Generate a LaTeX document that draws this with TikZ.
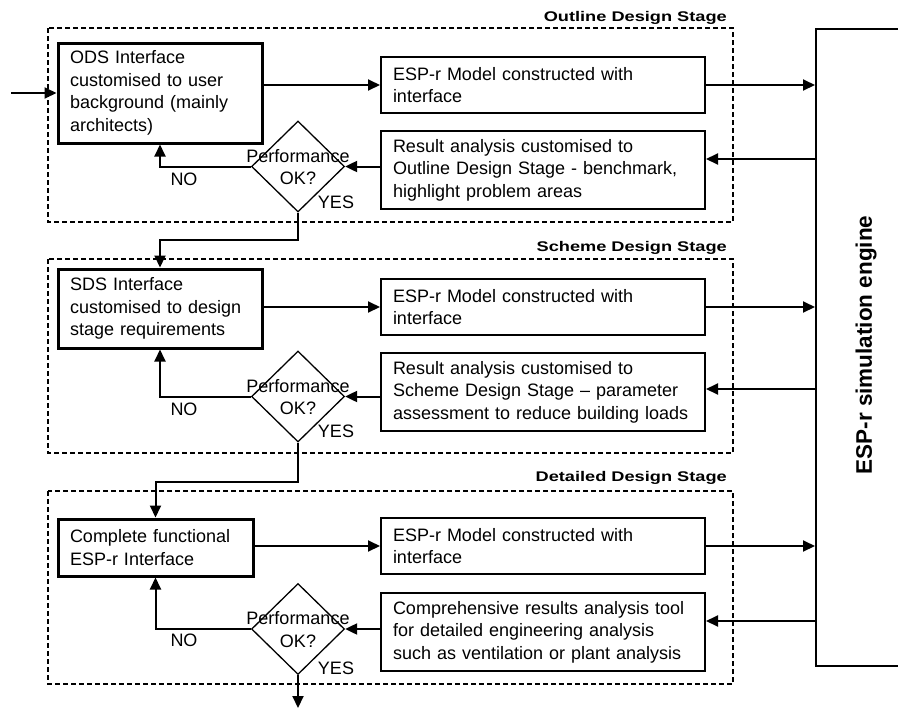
\documentclass[tikz,border=0pt]{standalone}
\usepackage{fontspec}
\setmainfont{Liberation Sans}
\newfontfamily\titlefont[FakeStretch=1.3]{Liberation Sans}
\usetikzlibrary{arrows.meta,shapes.geometric}
\tikzset{
  body/.style={font=\fontsize{18}{22.5}\selectfont},
  mainbox/.style={body,draw,line width=3pt,inner xsep=12pt,inner ysep=0pt,align=left},
  stepbox/.style={body,draw,line width=2pt,inner xsep=12pt,inner ysep=0pt,align=left,text width=300pt,minimum height=#1},
  dia/.style={draw,shape=diamond,line width=1.3pt,minimum width=93pt,minimum height=91pt,inner sep=0pt},
  stagebox/.style={draw,line width=1.4pt,dash pattern=on 5pt off 3pt},
  stagetitle/.style={font=\titlefont\bfseries\fontsize{14}{16}\selectfont,anchor=base east,inner sep=0pt},
  conn/.style={line width=2pt,-{Triangle[length=12pt,width=11pt]}},
  lbl/.style={body,inner sep=0pt}
}
\begin{document}
\begin{tikzpicture}[x=1pt,y=-1pt]
\useasboundingbox (0,0) rectangle (898,710);
% stage frames
\draw[stagebox] (48,28) rectangle (733,222);
\draw[stagebox] (48,259) rectangle (733,453);
\draw[stagebox] (48,491) rectangle (733,684);
\node[stagetitle] (t1) at (727,21) {Outline Design Stage};
\node[stagetitle] (t2) at (727,251) {Scheme Design Stage};
\node[stagetitle] (t3) at (727,481) {Detailed Design Stage};
% engine
\node[draw,line width=2pt,minimum width=164pt,minimum height=637pt,inner sep=0pt] (eng) at (898,347.5) {};
\node[rotate=90,font=\bfseries\fontsize{22.5}{26}\selectfont,inner sep=0pt] (engt) at (866,345) {ESP-r simulation engine};
% stage 1
\node[mainbox,text width=180pt,minimum height=100pt] (ods) at (160,93) {ODS Interface\\customised to user\\background (mainly\\architects)};
\node[stepbox=56pt] (esp1) at (543,85) {ESP-r Model constructed with\\interface};
\node[stepbox=78pt] (res1) at (543,170) {Result analysis customised to\\Outline Design Stage - benchmark,\\highlight problem areas};
\node[dia] (d1) at (298,166.5) {};
\node[lbl,align=center] (q1) at (298,167) {Performance\\OK?};
\node[lbl] (no1) at (184,179) {NO};
\node[lbl] (yes1) at (336,202) {YES};
% stage 2
\node[mainbox,text width=180pt,minimum height=79pt] (sds) at (160,308.5) {SDS Interface\\customised to design\\stage requirements};
\node[stepbox=56pt] (esp2) at (543,307) {ESP-r Model constructed with\\interface};
\node[stepbox=78pt] (res2) at (543,392) {Result analysis customised to\\Scheme Design Stage – parameter\\assessment to reduce building loads};
\node[dia] (d2) at (298,396.5) {};
\node[lbl,align=center] (q2) at (298,397) {Performance\\OK?};
\node[lbl] (no2) at (184,409) {NO};
\node[lbl] (yes2) at (336,431.5) {YES};
% stage 3
\node[mainbox,text width=171pt,minimum height=57pt] (cmp) at (155.5,547.5) {Complete functional\\ESP-r Interface};
\node[stepbox=56pt] (esp3) at (543,546) {ESP-r Model constructed with\\interface};
\node[stepbox=78pt] (res3) at (543,632) {Comprehensive results analysis tool\\for detailed engineering analysis\\such as ventilation or plant analysis};
\node[dia] (d3) at (298,629) {};
\node[lbl,align=center] (q3) at (298,629.5) {Performance\\OK?};
\node[lbl] (no3) at (184,640) {NO};
\node[lbl] (yes3) at (336,668) {YES};
% connectors
\coordinate (in) at (11,93);
\coordinate (out) at (298,708);
\draw[conn] (in) -- (ods.west);
\draw[conn] (ods.east |- esp1.west) -- (esp1.west);
\draw[conn] (esp1.east) -- (esp1.east -| eng.west);
\draw[conn] ([yshift=11pt]res1.east -| eng.west) -- ([yshift=11pt]res1.east);
\draw[conn] (d1.east -| res1.west) -- (d1.east);
\draw[conn] (d1.west) -| (ods.south);
\draw[conn] (d1.south) -- ++(0,27) -| (sds.north);
\draw[conn] (sds.east |- esp2.west) -- (esp2.west);
\draw[conn] (esp2.east) -- (esp2.east -| eng.west);
\draw[conn] ([yshift=3pt]res2.east -| eng.west) -- ([yshift=3pt]res2.east);
\draw[conn] (d2.east -| res2.west) -- (d2.east);
\draw[conn] (d2.west) -| (sds.south);
\draw[conn] (d2.south) -- ++(0,39) -| (cmp.north);
\draw[conn] (cmp.east |- esp3.west) -- (esp3.west);
\draw[conn] (esp3.east) -- (esp3.east -| eng.west);
\draw[conn] ([yshift=11pt]res3.east -| eng.west) -- ([yshift=11pt]res3.east);
\draw[conn] (d3.east -| res3.west) -- (d3.east);
\draw[conn] (d3.west) -| (cmp.south);
\draw[conn] (d3.south) -- (out);
\end{tikzpicture}
\end{document}
